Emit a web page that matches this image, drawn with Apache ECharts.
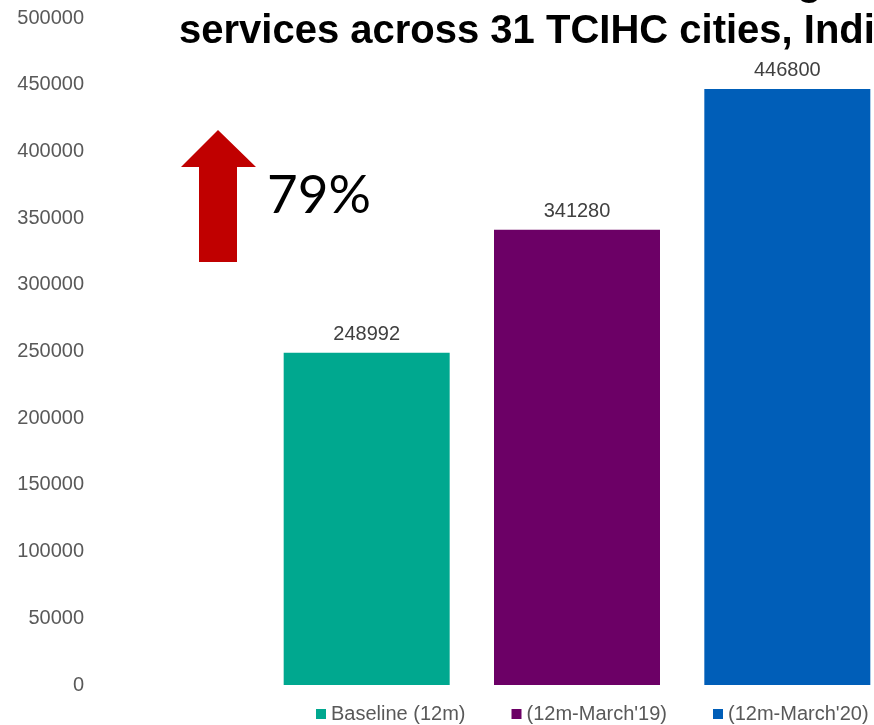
<!DOCTYPE html>
<html><head><meta charset="utf-8">
<script src="https://cdn.jsdelivr.net/npm/echarts@6/dist/echarts.min.js"></script>
<style>html,body{margin:0;padding:0;background:#fff}#c{width:874px;height:725px}</style>
</head><body><div id="c"></div>
<script>
const categories = ['TCIHC'];
const seriesNames = ['Baseline (12m)', "(12m-March'19)", "(12m-March'20)"];
const seriesValues = [248992, 341280, 446800];
const seriesColors = ['#00A88F', '#6C0066', '#005EB8'];
const yTicks = { min: 0, max: 500000, interval: 50000 };
const titleLines = ['Total number of clients accessing FP', 'services across 31 TCIHC cities, India'];
const growthLabel = '79%';

const chart = echarts.init(document.getElementById('c'));
chart.setOption({
  animation: false,
  grid: { left: 280, top: 18, right: 0, bottom: 40 },
  xAxis: { type: 'category', data: categories, axisLine: { show: false }, axisTick: { show: false }, axisLabel: { show: false } },
  yAxis: {
    type: 'value', min: yTicks.min, max: yTicks.max, interval: yTicks.interval, offset: 188,
    axisLine: { show: false }, axisTick: { show: false }, splitLine: { show: false },
    axisLabel: { color: '#595959', fontSize: 20, fontFamily: 'Liberation Sans', margin: 8, formatter: v => String(v) }
  },
  legend: {
    left: 311, top: 699, width: 600, itemWidth: 10, itemHeight: 10, itemGap: 46, icon: 'rect',
    textStyle: { color: '#595959', fontSize: 20, fontFamily: 'Liberation Sans' },
    data: seriesNames
  },
  series: seriesNames.map((n, i) => ({
    name: n, type: 'bar', data: [seriesValues[i]], barWidth: 166, barGap: '26.7%',
    itemStyle: { color: seriesColors[i] },
    label: { show: true, position: 'top', distance: 8, color: '#404040', fontSize: 20, fontFamily: 'Liberation Sans' }
  })),
  graphic: [
    { type: 'text', left: 180, top: -36, style: { text: titleLines[0], font: 'bold 40px "Liberation Sans"', fill: '#000' } },
    { type: 'text', left: 179, top: 12, style: { text: titleLines[1], font: 'bold 40px "Liberation Sans"', fill: '#000' } },
    { type: 'polygon', shape: { points: [[218,130],[256,167],[237,167],[237,262],[199,262],[199,167],[181,167]] }, style: { fill: '#C00000' } },
    { type: 'text', left: 267, top: 169, style: { text: growthLabel, font: '53px Lato', fill: '#000' } }
  ]
});
</script></body></html>
